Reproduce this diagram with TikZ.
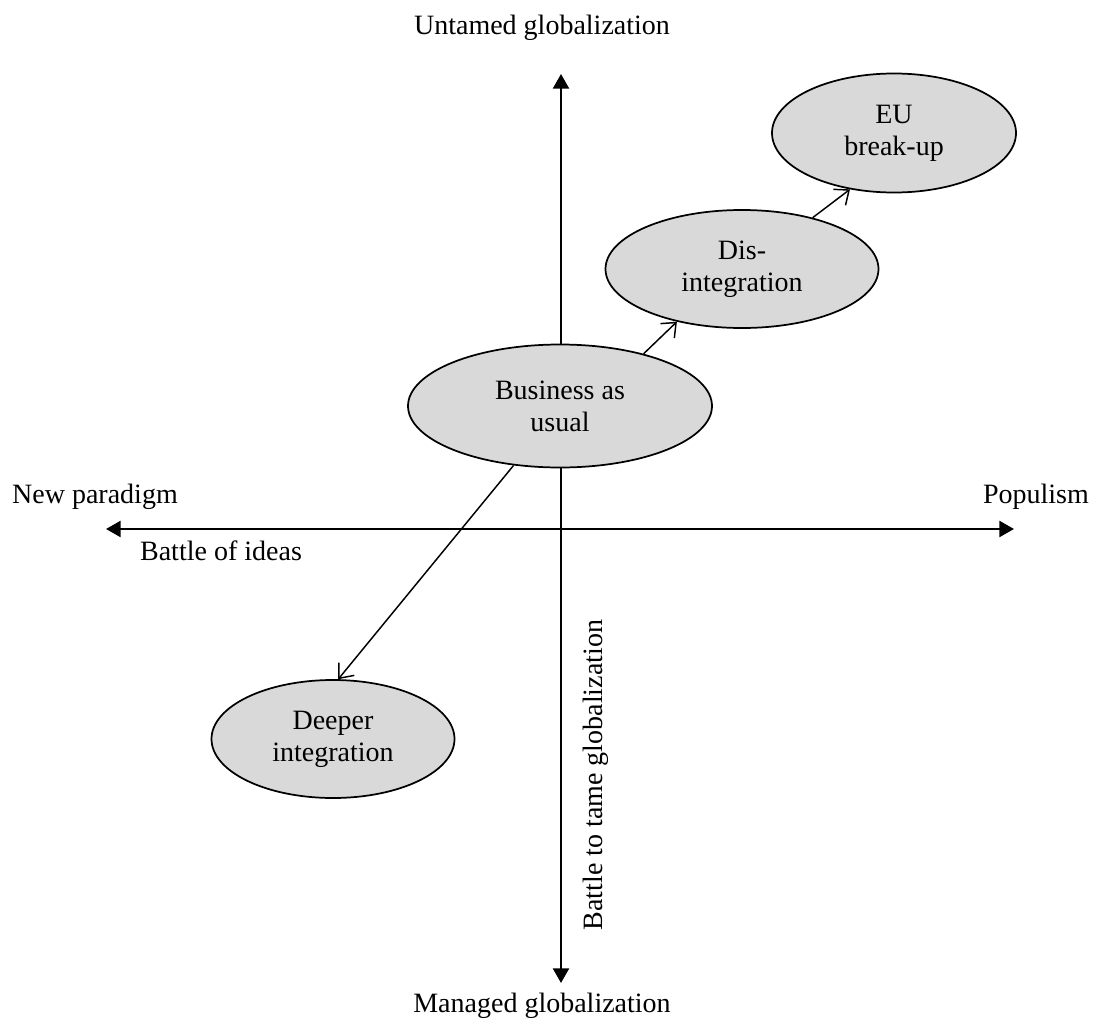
\documentclass[tikz,border=0pt]{standalone}
\usepackage{fontspec}
\setmainfont{Liberation Serif}
\usetikzlibrary{arrows.meta,shapes.geometric}
\definecolor{ellfill}{HTML}{D9D9D9}
\begin{document}
\begin{tikzpicture}[x=0.75pt,y=-0.75pt,
  every node/.style={font=\fontsize{21}{24}\selectfont},
  scen/.style={draw,ellipse,fill=ellfill,line width=1.3pt,inner sep=0pt,align=center},
  axis/.style={line width=1.8pt,-{Triangle[length=11pt,width=12pt]}},
  conn/.style={line width=1.1pt,-{Straight Barb[length=9pt,width=15pt,line width=1.1pt]}},
  lbl/.style={inner sep=0pt}]
\useasboundingbox (0,0) rectangle (1096,1028);
% axes
\coordinate (top) at (561,74);
\coordinate (bot) at (561,983);
\coordinate (lft) at (106,529);
\coordinate (rgt) at (1014,529);
\coordinate (ctr) at (561,529);
\draw[axis] (ctr) -- (top);
\draw[axis] (ctr) -- (bot);
\draw[axis] (ctr) -- (lft);
\draw[axis] (ctr) -- (rgt);
% labels
\node[lbl] (untamed) at (542,28) {Untamed globalization};
\node[lbl] (managed) at (542,1006) {Managed globalization};
\node[lbl] (newpar) at (95,497) {New paradigm};
\node[lbl] (populism) at (1036,497) {Populism};
\node[lbl] (bideas) at (221,551) {Battle of ideas};
\node[lbl,rotate=90] (btame) at (596,775) {Battle to tame globalization};
% ellipses
\node[scen,minimum width=304*0.75pt,minimum height=123*0.75pt] (bau) at (560,406) {Business as\\usual};
\node[scen,minimum width=273*0.75pt,minimum height=118*0.75pt] (dis) at (742,269) {Dis-\\integration};
\node[scen,minimum width=244*0.75pt,minimum height=119*0.75pt] (eu) at (894,133) {EU\\break-up};
\node[scen,minimum width=243*0.75pt,minimum height=118*0.75pt] (deep) at (333,739) {Deeper\\integration};
% connectors
\draw[conn] (bau.32.5) -- (dis.219.7);
\draw[conn] (dis.36.2) -- (eu.232.5);
\draw[conn] (bau.232.7) -- (deep.85);
\end{tikzpicture}
\end{document}
